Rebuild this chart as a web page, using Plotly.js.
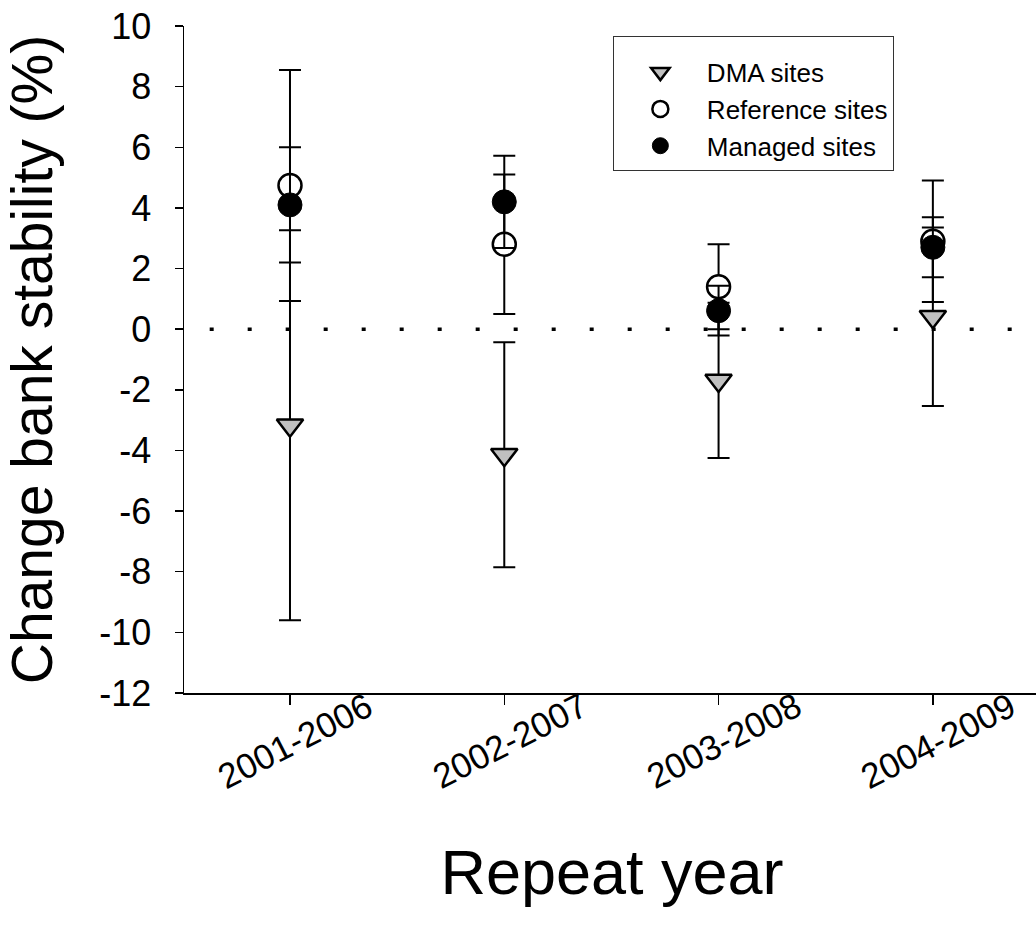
<!DOCTYPE html>
<html>
<head>
<meta charset="utf-8">
<script src="https://cdn.plot.ly/plotly-3.0.1.min.js"></script>
<style>
html, body { margin: 0; padding: 0; overflow: hidden; background: #fff; }
#chart { width: 1050px; height: 930px; }
</style>
</head>
<body>
<div id="chart"></div>
<script>
// ---- data ----
const categories = ["2001-2006", "2002-2007", "2003-2008", "2004-2009"];
const catIndex = [0, 1, 2, 3];

const dmaMean = [-3.17, -4.14, -1.69, 0.41];
const dmaErr  = [6.43, 3.71, 2.56, 2.94];

const refMean = [4.74, 2.80, 1.40, 2.90];
const refErr  = [3.81, 2.30, 1.40, 2.00];

const mgdMean = [4.10, 4.20, 0.61, 2.70];
const mgdErr  = [1.90, 1.52, 0.82, 0.99];

const yTicks = [-12, -10, -8, -6, -4, -2, 0, 2, 4, 6, 8, 10];

const FONT = "Liberation Sans, Arial, sans-serif";

function errBar(arr) {
  return { type: "data", array: arr, visible: true, color: "#000", thickness: 2, width: 11 };
}

const traces = [
  {
    name: "DMA sites", x: catIndex, y: dmaMean, type: "scatter", mode: "markers",
    marker: { symbol: "triangle-down", size: 23, color: "#c0c0c0", line: { color: "#000", width: 2.5 } },
    error_y: errBar(dmaErr), cliponaxis: false
  },
  {
    name: "Reference sites", x: catIndex, y: refMean, type: "scatter", mode: "markers",
    marker: { symbol: "circle", size: 23, color: "#fff", line: { color: "#000", width: 2.5 } },
    error_y: errBar(refErr), cliponaxis: false
  },
  {
    name: "Managed sites", x: catIndex, y: mgdMean, type: "scatter", mode: "markers",
    marker: { symbol: "circle", size: 24, color: "#000", line: { color: "#000", width: 1 } },
    error_y: errBar(mgdErr), cliponaxis: false
  }
];

const annotations = categories.map((c, i) => ({
  x: catIndex[i], xref: "x", xshift: 5,
  y: -0.0705, yref: "paper", yanchor: "middle", xanchor: "center",
  text: c, textangle: -27, showarrow: false,
  font: { family: FONT, size: 35, color: "#000" }
}));

const layout = {
  width: 1050, height: 930,
  margin: { l: 184, r: 10, t: 26, b: 237 },
  paper_bgcolor: "#fff", plot_bgcolor: "#fff",
  font: { family: FONT, color: "#000" },
  showlegend: true,
  legend: {
    x: 0.501, y: 0.985, xanchor: "left", yanchor: "top",
    bgcolor: "#fff", bordercolor: "#333", borderwidth: 1,
    font: { family: FONT, size: 26, color: "#000" },
    title: { text: " ", font: { family: FONT, size: 9 } },
    itemwidth: 83
  },
  xaxis: {
    range: [-0.4946, 3.5],
    tickmode: "array", tickvals: catIndex, ticktext: categories,
    showticklabels: false,
    ticks: "outside", ticklen: 10, tickwidth: 1.5, tickcolor: "#000",
    showline: true, linecolor: "#000", linewidth: 1.5,
    showgrid: false, zeroline: false, mirror: false,
    title: { text: "Repeat year", font: { family: FONT, size: 63, color: "#000" }, standoff: 146 },
    automargin: false
  },
  yaxis: {
    range: [-12, 10],
    tickmode: "array", tickvals: yTicks, ticktext: yTicks.map(String),
    ticks: "outside", ticklen: 8, tickwidth: 1.5, tickcolor: "#000",
    ticklabelstandoff: 16,
    tickfont: { family: FONT, size: 36, color: "#000" },
    showline: true, linecolor: "#000", linewidth: 1.5,
    showgrid: false, zeroline: false, mirror: false,
    title: { text: "Change bank stability (%)", font: { family: FONT, size: 57, color: "#000" }, standoff: 30 },
    automargin: false
  },
  shapes: [{
    type: "line", xref: "paper", yref: "y", x0: 0.03, x1: 1, y0: 0, y1: 0,
    line: { color: "#000", width: 3.5, dash: "4px,34px" }, layer: "below"
  }],
  annotations: annotations
};

Plotly.newPlot("chart", traces, layout, { displayModeBar: false, staticPlot: true });
</script>
</body>
</html>
